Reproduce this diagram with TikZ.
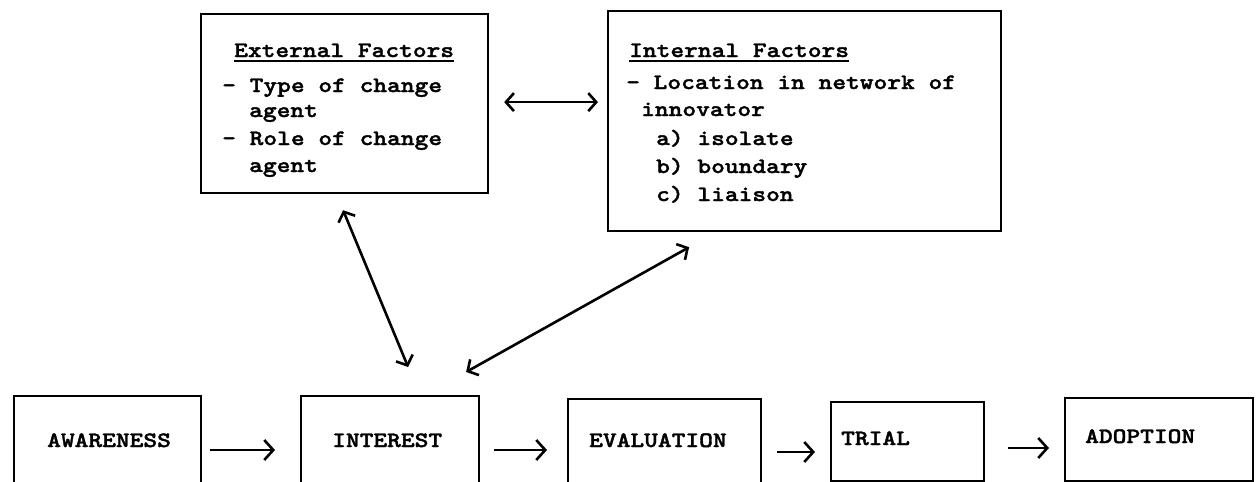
\documentclass[tikz,border=0pt]{standalone}
\usepackage{fontspec}
\newfontfamily\tw{lmmonolt10-bold.otf}[FakeStretch=1.19,FakeBold=1.6]
\usetikzlibrary{arrows.meta}
\tikzset{
  box/.style={draw, line width=2.2pt, anchor=north west, inner sep=0pt, rectangle},
  lbl/.style={anchor=base west, inner sep=0pt, font=\tw\fontsize{22}{26}\selectfont},
  arr/.style={line width=2.6pt, -{Straight Barb[length=9pt,width=20pt,line width=2.6pt]}},
  darr/.style={line width=2.6pt, {Straight Barb[length=8pt,width=18pt,line width=2.6pt]}-{Straight Barb[length=8pt,width=18pt,line width=2.6pt]}},
  uline/.style={line width=1.8pt}
}
\begin{document}
\begin{tikzpicture}[x=1pt,y=-1pt]
\useasboundingbox[fill=white] (0,0) rectangle (1256,482);
% top boxes
\node[box, minimum width=287pt, minimum height=179pt] (ext) at (200,13) {};
\node[box, minimum width=393pt, minimum height=220pt] (int) at (607,10) {};
% external text
\node[lbl] (eh) at (234,57) {External Factors};
\draw[uline] ([yshift=-4pt]eh.base west) -- ([yshift=-4pt]eh.base east);
\node[lbl] (e1) at (222,92) {- Type of change};
\node[lbl] (e2) at (249,117) {agent};
\node[lbl] (e3) at (222,145) {- Role of change};
\node[lbl] (e4) at (249,172) {agent};
% internal text
\node[lbl] (ih) at (629,57) {Internal Factors};
\draw[uline] ([yshift=-4pt]ih.base west) -- ([yshift=-4pt]ih.base east);
\node[lbl] (i1) at (626,89) {- Location in network of};
\node[lbl] (i2) at (641,116) {innovator};
\node[lbl] (i3) at (656,145) {a) isolate};
\node[lbl] (i4) at (656,173) {b) boundary};
\node[lbl] (i5) at (656,201) {c) liaison};
% bottom boxes
\node[box, minimum width=187pt, minimum height=105pt] (aw) at (13,395) {};
\node[box, minimum width=178pt, minimum height=105pt] (in) at (300,395) {};
\node[box, minimum width=193pt, minimum height=105pt] (ev) at (567,398) {};
\node[box, minimum width=153pt, minimum height=79pt] (tr) at (830,401) {};
\node[box, minimum width=188pt, minimum height=83pt] (ad) at (1064,397) {};
\node[lbl] (awt) at (47,447) {AWARENESS};
\node[lbl] (int2) at (332,447) {INTEREST};
\node[lbl] (evt) at (589,447) {EVALUATION};
\node[lbl] (trt) at (841,445) {TRIAL};
\node[lbl] (adt) at (1085,443) {ADOPTION};
% horizontal arrows
\draw[arr] ([xshift=8pt,yshift=-55pt]aw.north east) -- ([xshift=-25pt,yshift=-55pt]in.north west);
\draw[arr] ([xshift=14pt,yshift=-55pt]in.north east) -- ([xshift=-20pt,yshift=-52pt]ev.north west);
\draw[arr] ([xshift=15pt,yshift=-54pt]ev.north east) -- ([xshift=-15pt,yshift=-51pt]tr.north west);
\draw[arr] ([xshift=23pt,yshift=-47pt]tr.north east) -- ([xshift=-15pt,yshift=-51pt]ad.north west);
% double arrows
\draw[darr] ([xshift=15pt,yshift=1.5pt]ext.east) -- ([xshift=-9pt,yshift=19pt]int.west);
\draw[darr] ([xshift=-1.5pt,yshift=-16pt]ext.south) -- ([xshift=18pt,yshift=28pt]in.north);
\draw[darr] ([xshift=-115.5pt,yshift=-15pt]int.south) -- ([xshift=76pt,yshift=23pt]in.north);
\end{tikzpicture}
\end{document}
